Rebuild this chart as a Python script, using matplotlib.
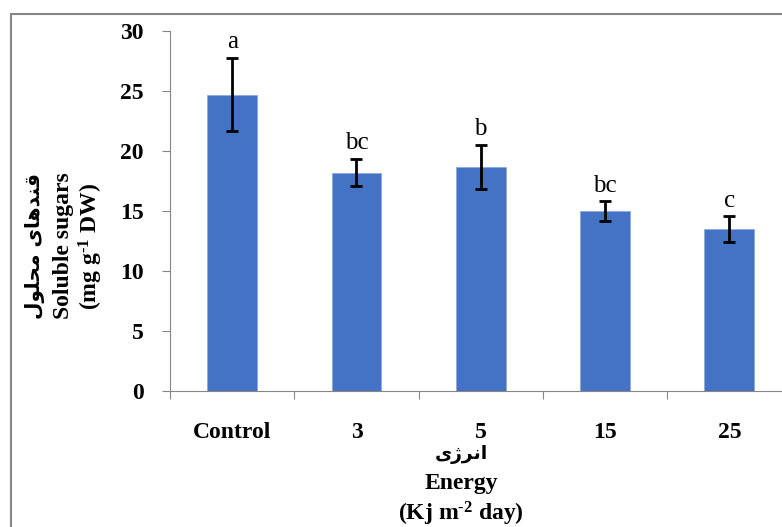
import matplotlib.pyplot as plt
from matplotlib.patches import Rectangle

categories = ['Control', '3', '5', '15', '25']
means = [24.7, 18.2, 18.65, 15.0, 13.5]
errors = [3.05, 1.15, 1.85, 0.8, 1.05]
letters = ['a', 'bc', 'b', 'bc', 'c']

# Persian text in presentation forms, visual (left-to-right) order
fa_ylabel = '\uFEDD\uFEEE\uFEE0\uFEA4\uFEE3 \uFBFC\uFE8E\uFEEB\uFEAA\uFEE8\uFED7'
fa_xlabel = '\uFBFC\uFB8A\uFEAE\uFEE7\uFE8D'

serif = ['Liberation Serif', 'DejaVu Serif']
fa_font = ['DejaVu Sans']

plt.rcParams['mathtext.fontset'] = 'custom'
plt.rcParams['mathtext.rm'] = 'Liberation Serif:bold'
plt.rcParams['mathtext.bf'] = 'Liberation Serif:bold'
plt.rcParams['mathtext.default'] = 'rm'

fig = plt.figure(figsize=(7.82, 5.27), dpi=100)
ax = fig.add_axes([170 / 782, 136 / 527, 621.5 / 782, 360 / 527])

x = range(len(categories))
ax.bar(x, means, width=0.4, color='#4472C4', edgecolor='#8faadc', linewidth=0.6, zorder=2)
ax.errorbar(x, means, yerr=errors, fmt='none', ecolor='black', elinewidth=2,
            capsize=4.5, capthick=2, zorder=3)
for i in x:
    ax.text(i, means[i] + errors[i] + 0.4, letters[i], ha='center', va='bottom',
            fontsize=18, family=serif)

ax.set_xlim(-0.5, len(categories) - 0.5)
ax.set_ylim(0, 30)
ax.set_yticks(range(0, 31, 5))
ax.set_yticklabels([str(v) for v in range(0, 31, 5)], family=serif, fontsize=17,
                   fontweight='bold')
# boundary ticks (major) and category labels (minor)
ax.set_xticks([i - 0.5 for i in range(len(categories))])
ax.set_xticklabels([])
ax.set_xticks(list(x), minor=True)
ax.set_xticklabels(categories, minor=True, family=serif, fontsize=17, fontweight='bold')
ax.tick_params(axis='x', which='major', length=6, direction='out', color='#868686')
ax.tick_params(axis='x', which='minor', length=0, pad=22)
ax.tick_params(axis='y', length=6, direction='out', color='#868686', pad=13)
for s in ['top', 'right']:
    ax.spines[s].set_visible(False)
ax.spines['left'].set_color('#868686')
ax.spines['bottom'].set_color('#868686')

# y label (three lines)
fig.text(35 / 782, 1 - 246 / 527, fa_ylabel, rotation=90, ha='center', va='center',
         fontsize=14.5, fontweight='bold', family=fa_font)
fig.text(63 / 782, 1 - 246 / 527, 'Soluble sugars', rotation=90, ha='center', va='center',
         fontsize=17, fontweight='bold', family=serif)
fig.text(91 / 782, 1 - 246 / 527, r'(mg g$^{\text{-1}}$ DW)', rotation=90, ha='center',
         va='center', fontsize=17, fontweight='bold', family=serif)

# x label (three lines)
fig.text(461 / 782, 1 - 454 / 527, fa_xlabel, ha='center', va='center',
         fontsize=13.5, fontweight='bold', family=fa_font)
fig.text(461 / 782, 1 - 484 / 527, 'Energy', ha='center', va='center',
         fontsize=17, fontweight='bold', family=serif)
fig.text(461 / 782, 1 - 514 / 527, r'(Kj m$^{\text{-2}}$ day)', ha='center', va='center',
         fontsize=17, fontweight='bold', family=serif)

fig.patches.append(Rectangle((11 / 782, -0.1), 1.2, 1 - 14 / 527 + 0.1,
                             transform=fig.transFigure, fill=False,
                             edgecolor='#868686', linewidth=1.5))

fig.savefig('out.png', dpi=100)
